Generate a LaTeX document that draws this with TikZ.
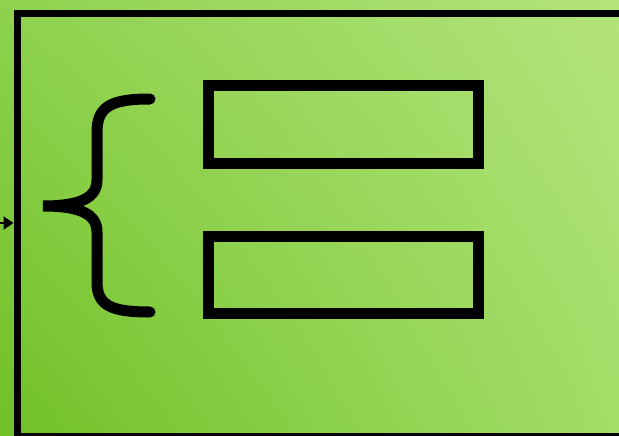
\documentclass[tikz,border=0pt]{standalone}
\usetikzlibrary{arrows.meta,shadings}
\definecolor{bgUL}{HTML}{8ED24E}
\definecolor{bgLL}{HTML}{70C026}
\definecolor{bgUR}{HTML}{B4E47C}
\definecolor{bgLR}{HTML}{A2DE68}
\tikzset{
  frame/.style={draw=black, line width=7pt, inner sep=0pt, fill=none},
  slot/.style={draw=black, line width=11pt, inner sep=0pt, minimum width=270pt, minimum height=77pt, fill=none},
  bracepath/.style={draw=black, line width=11pt, line cap=round},
}
\begin{document}
\begin{tikzpicture}[x=1pt,y=-1pt]
\useasboundingbox (0,0) rectangle (619,436);
\clip (0,0) rectangle (619,436);
\shade[lower left=bgLL, lower right=bgLR, upper left=bgUL, upper right=bgUR] (0,0) rectangle (619,436);
\node[frame, minimum width=630pt, minimum height=422pt, anchor=north west] (outer) at (13.5,10.5) {};
\coordinate (in) at (-30,223);
\draw[-{Triangle[length=10pt,width=13pt]}, line width=2pt] (in) -- (in -| outer.west);
\node[slot] (top) at (343.5,124.5) {};
\node[slot] (bottom) at (343.5,275) {};
\draw[bracepath] (150,99) .. controls (112,99) and (97,106) .. (97,132) -- (97,180)
  .. controls (97,198) and (80,206) .. (43,206)
  .. controls (80,206) and (97,214) .. (97,232) -- (97,282)
  .. controls (97,306) and (112,312) .. (150,312);
\end{tikzpicture}
\end{document}
